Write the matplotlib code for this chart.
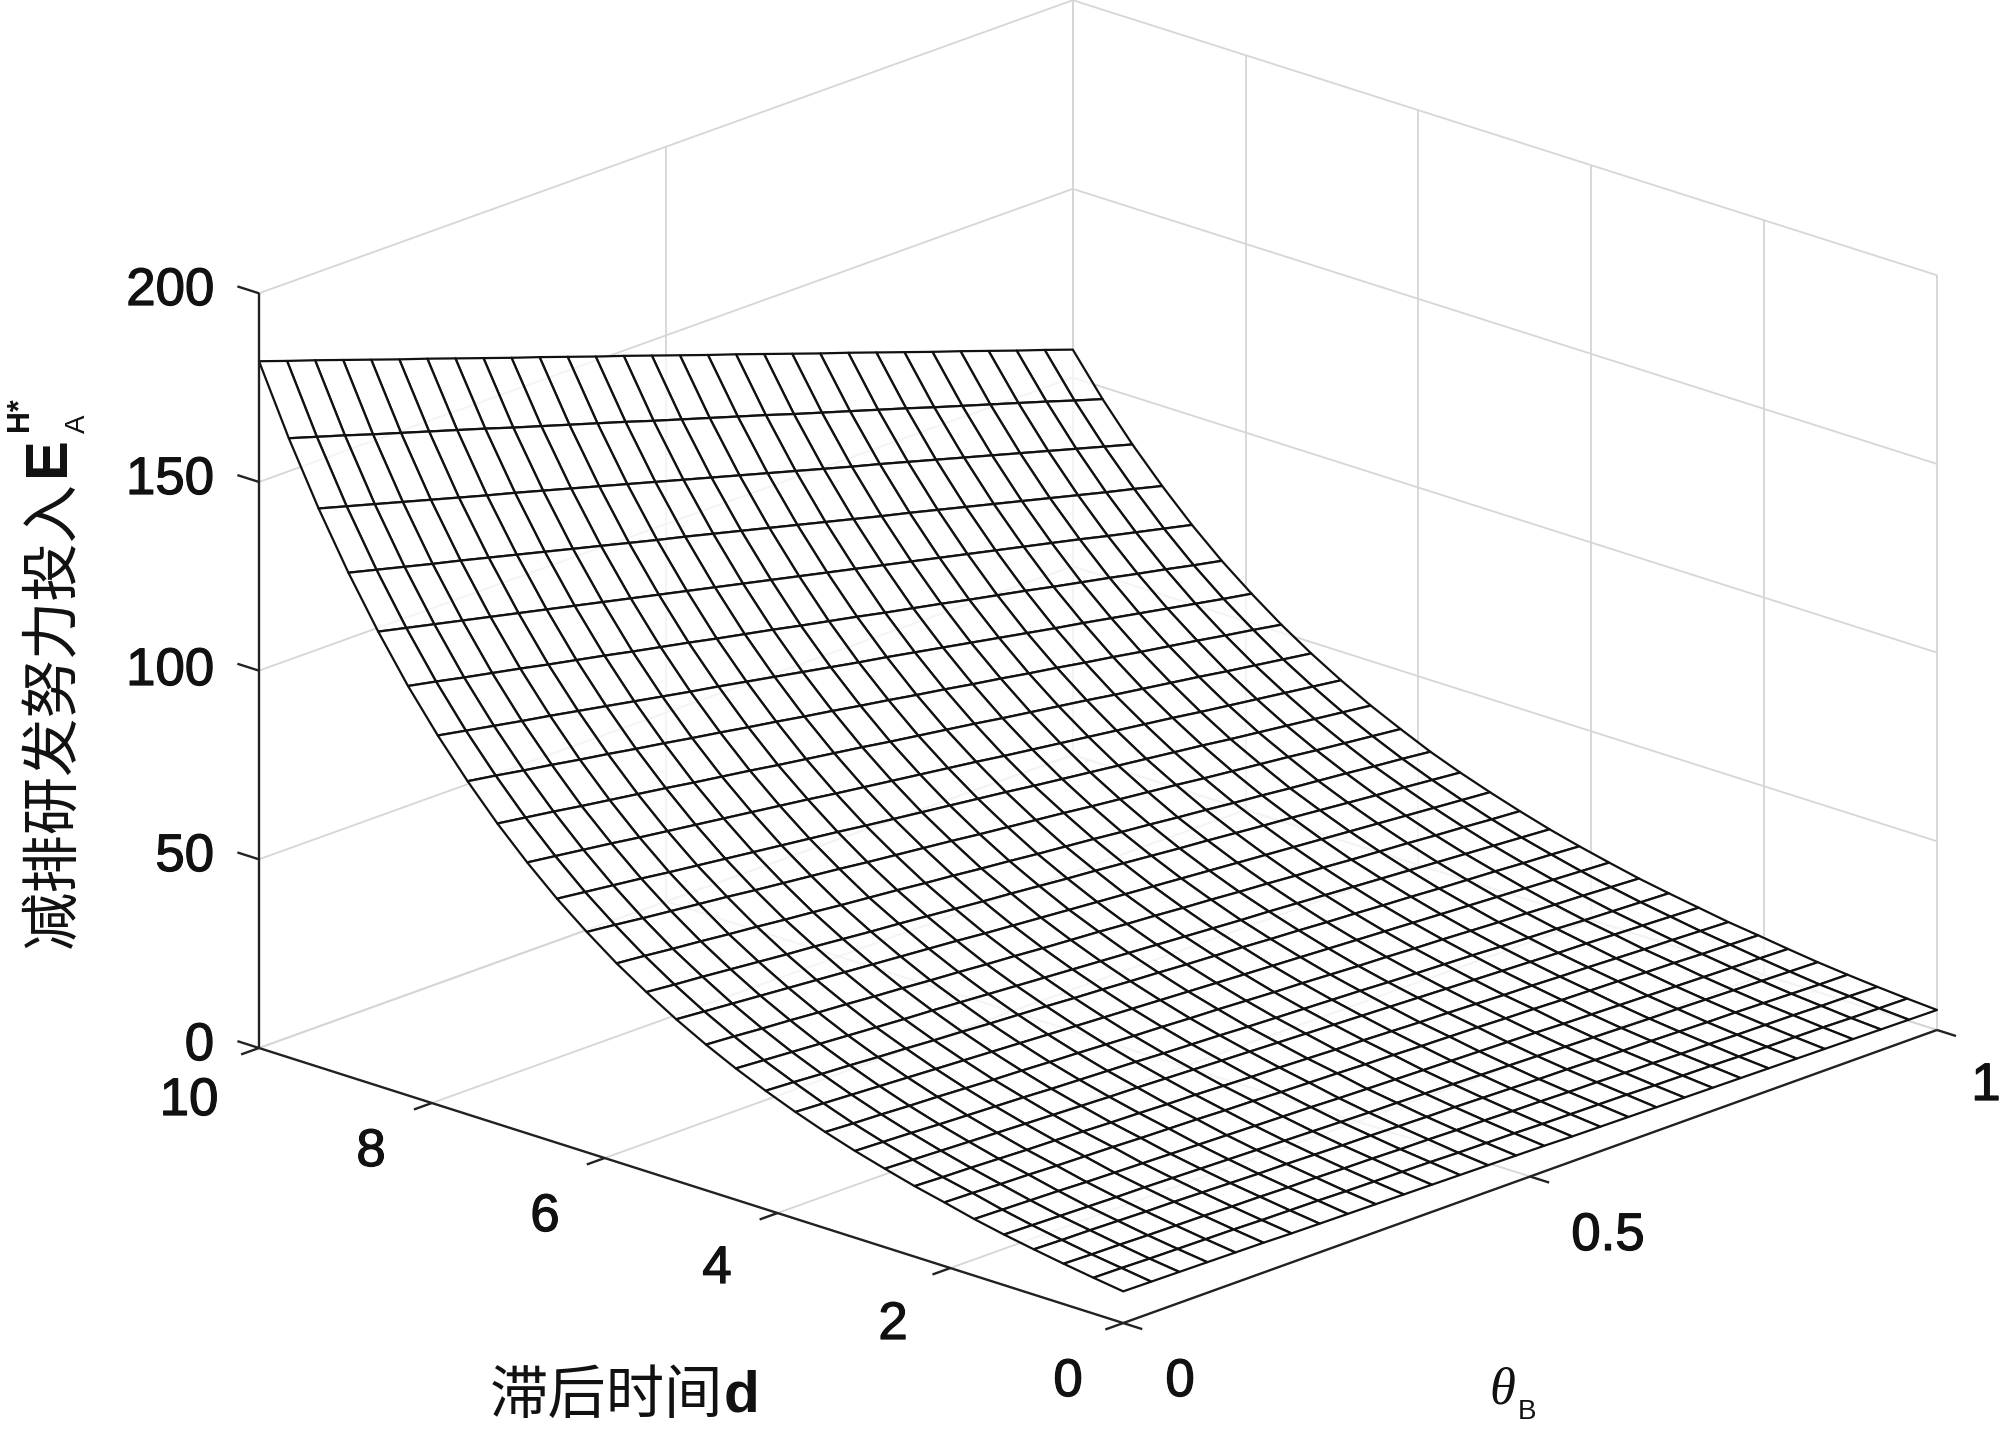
import matplotlib
matplotlib.use('Agg')
import matplotlib.pyplot as plt
import matplotlib.patheffects as pe
import numpy as np
from mpl_toolkits.mplot3d import proj3d

W, H = 2000, 1437

# axis ticks
theta_ticks = [0, 0.5, 1]
d_ticks = [0, 2, 4, 6, 8, 10]
z_ticks = [0, 50, 100, 150, 200]

theta_tick_labels = ['0', '0.5', '1']
d_tick_labels = ['0', '2', '4', '6', '8', '10']
z_tick_labels = ['0', '50', '100', '150', '200']

# surface: one row per d step (d=0 first), one column per theta step
surface_rows = [
    [8.4,8.3,8.2,8.1,8.0,7.9,7.7,7.6,7.5,7.4,7.3,7.2,7.1,7.0,6.9,6.8,6.6,6.5,6.4,6.3,6.2,6.1,6.0,5.9,5.8,5.7,5.6,5.5,5.4,5.3],
    [9.5,9.4,9.2,9.1,9.0,8.9,8.7,8.6,8.5,8.3,8.2,8.1,8.0,7.8,7.7,7.6,7.4,7.3,7.2,7.1,6.9,6.8,6.7,6.5,6.4,6.3,6.2,6.0,5.9,5.8],
    [10.7,10.5,10.4,10.2,10.1,10.0,9.8,9.7,9.5,9.4,9.2,9.1,8.9,8.8,8.6,8.5,8.3,8.2,8.0,7.9,7.7,7.6,7.4,7.3,7.1,7.0,6.9,6.7,6.6,6.4],
    [12.0,11.8,11.7,11.5,11.3,11.2,11.0,10.8,10.6,10.5,10.3,10.1,10.0,9.8,9.6,9.5,9.3,9.1,8.9,8.8,8.6,8.4,8.3,8.1,7.9,7.8,7.6,7.4,7.2,7.1],
    [13.4,13.2,13.0,12.8,12.6,12.5,12.3,12.1,11.9,11.7,11.5,11.3,11.1,10.9,10.8,10.6,10.4,10.2,10.0,9.8,9.6,9.4,9.2,9.0,8.9,8.7,8.5,8.3,8.1,7.9],
    [15.0,14.8,14.6,14.4,14.1,13.9,13.7,13.5,13.3,13.1,12.9,12.7,12.5,12.2,12.0,11.8,11.6,11.4,11.2,11.0,10.8,10.5,10.3,10.1,9.9,9.7,9.5,9.3,9.1,8.9],
    [16.9,16.7,16.4,16.2,15.9,15.7,15.5,15.2,15.0,14.8,14.5,14.3,14.0,13.8,13.6,13.3,13.1,12.8,12.6,12.4,12.1,11.9,11.6,11.4,11.2,10.9,10.7,10.4,10.2,10.0],
    [18.7,18.4,18.2,17.9,17.6,17.4,17.1,16.8,16.6,16.3,16.1,15.8,15.5,15.3,15.0,14.7,14.5,14.2,13.9,13.7,13.4,13.1,12.9,12.6,12.4,12.1,11.8,11.6,11.3,11.0],
    [20.8,20.5,20.2,19.9,19.6,19.3,19.0,18.7,18.4,18.2,17.9,17.6,17.3,17.0,16.7,16.4,16.1,15.8,15.5,15.2,14.9,14.6,14.3,14.0,13.7,13.5,13.2,12.9,12.6,12.3],
    [23.0,22.7,22.4,22.0,21.7,21.4,21.1,20.7,20.4,20.1,19.8,19.4,19.1,18.8,18.4,18.1,17.8,17.5,17.2,16.8,16.5,16.2,15.9,15.5,15.2,14.9,14.5,14.2,13.9,13.6],
    [25.5,25.1,24.8,24.4,24.1,23.7,23.3,23.0,22.6,22.3,21.9,21.5,21.2,20.8,20.5,20.1,19.7,19.4,19.0,18.6,18.3,17.9,17.6,17.2,16.8,16.5,16.1,15.8,15.4,15.0],
    [28.3,27.9,27.5,27.1,26.7,26.3,25.9,25.5,25.1,24.7,24.3,23.9,23.5,23.1,22.7,22.3,21.9,21.5,21.1,20.7,20.3,19.9,19.5,19.1,18.7,18.3,17.9,17.5,17.1,16.7],
    [31.4,31.0,30.5,30.1,29.6,29.2,28.7,28.3,27.8,27.4,27.0,26.5,26.1,25.6,25.2,24.7,24.3,23.9,23.4,23.0,22.5,22.1,21.6,21.2,20.7,20.3,19.9,19.4,19.0,18.5],
    [34.8,34.3,33.8,33.3,32.8,32.3,31.8,31.4,30.9,30.4,29.9,29.4,28.9,28.4,27.9,27.4,26.9,26.4,25.9,25.5,25.0,24.5,24.0,23.5,23.0,22.5,22.0,21.5,21.0,20.5],
    [38.6,38.1,37.5,37.0,36.4,35.9,35.3,34.8,34.2,33.7,33.1,32.6,32.0,31.5,31.0,30.4,29.9,29.3,28.8,28.2,27.7,27.1,26.6,26.0,25.5,25.0,24.4,23.9,23.3,22.8],
    [42.8,42.2,41.6,41.0,40.4,39.8,39.2,38.6,38.0,37.4,36.8,36.1,35.5,34.9,34.3,33.7,33.1,32.5,31.9,31.3,30.7,30.1,29.5,28.9,28.3,27.7,27.1,26.5,25.9,25.3],
    [47.5,46.8,46.2,45.5,44.8,44.1,43.5,42.8,42.1,41.5,40.8,40.1,39.4,38.8,38.1,37.4,36.8,36.1,35.4,34.7,34.1,33.4,32.7,32.1,31.4,30.7,30.0,29.4,28.7,28.0],
    [52.6,51.9,51.1,50.4,49.6,48.9,48.1,47.4,46.6,45.9,45.2,44.4,43.7,42.9,42.2,41.4,40.7,40.0,39.2,38.5,37.7,37.0,36.2,35.5,34.7,34.0,33.3,32.5,31.8,31.0],
    [58.4,57.6,56.7,55.9,55.1,54.3,53.4,52.6,51.8,51.0,50.1,49.3,48.5,47.7,46.8,46.0,45.2,44.4,43.5,42.7,41.9,41.1,40.2,39.4,38.6,37.8,36.9,36.1,35.3,34.5],
    [64.7,63.8,62.9,62.0,61.0,60.1,59.2,58.3,57.4,56.5,55.6,54.6,53.7,52.8,51.9,51.0,50.1,49.1,48.2,47.3,46.4,45.5,44.6,43.7,42.7,41.8,40.9,40.0,39.1,38.2],
    [71.8,70.8,69.8,68.8,67.7,66.7,65.7,64.7,63.7,62.7,61.7,60.6,59.6,58.6,57.6,56.6,55.6,54.5,53.5,52.5,51.5,50.5,49.5,48.5,47.4,46.4,45.4,44.4,43.4,42.4],
    [79.6,78.5,77.4,76.2,75.1,74.0,72.9,71.7,70.6,69.5,68.3,67.2,66.1,65.0,63.8,62.7,61.6,60.5,59.3,58.2,57.1,56.0,54.8,53.7,52.6,51.5,50.3,49.2,48.1,47.0],
    [88.3,87.1,85.8,84.6,83.3,82.1,80.8,79.6,78.3,77.1,75.8,74.6,73.3,72.1,70.8,69.6,68.3,67.1,65.8,64.6,63.3,62.1,60.8,59.6,58.3,57.1,55.9,54.6,53.4,52.1],
    [97.9,96.5,95.1,93.7,92.4,91.0,89.6,88.2,86.8,85.4,84.1,82.7,81.3,79.9,78.5,77.1,75.8,74.4,73.0,71.6,70.2,68.8,67.4,66.1,64.7,63.3,61.9,60.5,59.1,57.8],
    [108.5,107.0,105.4,103.9,102.4,100.8,99.3,97.8,96.2,94.7,93.2,91.6,90.1,88.6,87.0,85.5,84.0,82.4,80.9,79.4,77.8,76.3,74.8,73.2,71.7,70.2,68.6,67.1,65.5,64.0],
    [120.4,118.7,117.0,115.3,113.6,111.9,110.2,108.5,106.8,105.1,103.4,101.7,100.0,98.3,96.6,94.9,93.2,91.5,89.8,88.1,86.4,84.7,83.0,81.3,79.6,77.9,76.1,74.4,72.7,71.0],
    [133.5,131.6,129.7,127.8,126.0,124.1,122.2,120.3,118.4,116.5,114.6,112.7,110.9,109.0,107.1,105.2,103.3,101.4,99.5,97.6,95.8,93.9,92.0,90.1,88.2,86.3,84.4,82.5,80.7,78.8],
    [148.0,145.9,143.8,141.7,139.6,137.5,135.4,133.4,131.3,129.2,127.1,125.0,122.9,120.8,118.7,116.6,114.5,112.4,110.3,108.2,106.2,104.1,102.0,99.9,97.8,95.7,93.6,91.5,89.4,87.3],
    [164.1,161.8,159.5,157.1,154.8,152.5,150.2,147.9,145.5,143.2,140.9,138.6,136.3,133.9,131.6,129.3,127.0,124.7,122.3,120.0,117.7,115.4,113.1,110.7,108.4,106.1,103.8,101.5,99.1,96.8],
    [182.0,179.4,176.9,174.3,171.7,169.1,166.6,164.0,161.4,158.8,156.3,153.7,151.1,148.6,146.0,143.4,140.8,138.3,135.7,133.1,130.5,128.0,125.4,122.8,120.2,117.7,115.1,112.5,110.0,107.4],
]

Z = np.array(surface_rows)
theta_grid = np.linspace(0, 1, Z.shape[1])
d_grid = np.linspace(0, 10, Z.shape[0])
T, D = np.meshgrid(theta_grid, d_grid)

grid_color = '#d6d6d6'
axis_color = '#222222'
mesh_color = '#111111'
grid_lw = 1.3
axis_lw = 1.7
mesh_lw = 1.6

fig = plt.figure(figsize=(W / 100, H / 100), dpi=100, facecolor='white')

# square axes bigger than the figure so that nothing gets clipped
L = 3000
ax = fig.add_axes([(W - L) / 2 / W, (H - L) / 2 / H, L / W, L / H], projection='3d', proj_type='ortho')
ax.computed_zorder = False
ax.view_init(elev=19.79, azim=-136.77)
ax.set_axis_off()

def line3(xs, ys, zs, color, lw, zo):
    ax.plot(xs, ys, zs, color=color, lw=lw, zorder=zo, solid_capstyle='butt')

# gridlines on floor and back walls
for t in theta_ticks:
    line3([t, t], [0, 10], [0, 0], grid_color, grid_lw, 1)
    line3([t, t], [10, 10], [0, 200], grid_color, grid_lw, 1)
for d in d_ticks:
    line3([0, 1], [d, d], [0, 0], grid_color, grid_lw, 1)
    line3([1, 1], [d, d], [0, 200], grid_color, grid_lw, 1)
for z in z_ticks:
    line3([0, 1], [10, 10], [z, z], grid_color, grid_lw, 1)
    line3([1, 1], [0, 10], [z, z], grid_color, grid_lw, 1)

# the mesh: white faces let a little of the grid show through
surf = ax.plot_surface(T, D, Z, rstride=1, cstride=1, shade=False, color='white',
                       edgecolor=mesh_color, linewidth=mesh_lw, zorder=2)
surf.set_facecolor((1, 1, 1, 0.72))
surf.set_edgecolor(mesh_color)

# black axes and ticks
line3([0, 1], [0, 0], [0, 0], axis_color, axis_lw, 3)
line3([0, 0], [0, 10], [0, 0], axis_color, axis_lw, 3)
line3([0, 0], [10, 10], [0, 200], axis_color, axis_lw, 3)
for t in theta_ticks:
    line3([t, t], [0, -0.22], [0, 0], axis_color, axis_lw, 3)
for d in d_ticks:
    line3([0, -0.022], [d, d], [0, 0], axis_color, axis_lw, 3)
for z in z_ticks:
    line3([0, 0], [10, 10.25], [z, z], axis_color, axis_lw, 3)

ax.set_xlim(0, 1)
ax.set_ylim(0, 10)
ax.set_zlim(0, 200)
box = (1188, 1186, 802)
ax.set_box_aspect(box)

# move the box so its left and right corners land where they are in the reference
def corner_px(x, y, z):
    ax.apply_aspect()
    x2, y2, _ = proj3d.proj_transform(x, y, z, ax.get_proj())
    return ax.transData.transform((x2, y2))

p_left = corner_px(0, 10, 0)
p_right = corner_px(1, 0, 0)
ax.set_box_aspect(box, zoom=(1937 - 259) / (p_right[0] - p_left[0]))
p_left = corner_px(0, 10, 0)
dx = 259 - p_left[0]
dy = (H - 1048) - p_left[1]
ax.set_position([((W - L) / 2 + dx) / W, ((H - L) / 2 + dy) / H, L / W, L / H])

# text is placed in figure pixels (y from the top)
def px_text(x, y, s, **kw):
    kw.setdefault('va', 'center')
    kw.setdefault('ha', 'center')
    kw.setdefault('color', '#111111')
    return fig.text(x / W, 1 - y / H, s, **kw)

def tick_text(x, y, s, **kw):
    # the reference digits are a little heavier than the regular weight
    t = px_text(x, y, s, family=latin, fontsize=38, **kw)
    t.set_path_effects([pe.withStroke(linewidth=0.9, foreground='#111111')])

latin = 'Liberation Sans'
cjk = 'Noto Sans CJK SC'

z_label_y = [1046, 857, 671, 480, 291]
for s, y in zip(z_tick_labels, z_label_y):
    tick_text(214, y, s, ha='right')

d_label_xy = [(1068, 1382), (893, 1325), (717, 1269), (545, 1217), (371, 1152), (189, 1101)]
for s, (x, y) in zip(d_tick_labels, d_label_xy):
    tick_text(x, y, s)

theta_label_xy = [(1180, 1382), (1608, 1236), (1986, 1086)]
for s, (x, y) in zip(theta_tick_labels, theta_label_xy):
    tick_text(x, y, s)

# axis titles
px_text(53, 714, '减排研发努力投入', family=cjk, fontsize=42, rotation=90)
px_text(48, 456, 'E', family=latin, fontsize=43, rotation=90, fontweight='bold')
px_text(78, 424, 'A', family=latin, fontsize=20, rotation=90)
px_text(20, 414, 'H*', family=latin, fontsize=22, rotation=90, fontweight='bold')

px_text(606, 1396, '滞后时间', family=cjk, fontsize=42)
px_text(742, 1396, 'd', family=latin, fontsize=42, fontweight='bold')

px_text(1502, 1391, 'θ', family='Liberation Serif', fontsize=38, style='italic')
px_text(1527, 1412, 'B', family=latin, fontsize=20)

fig.savefig('out.png', dpi=100, facecolor='white')
